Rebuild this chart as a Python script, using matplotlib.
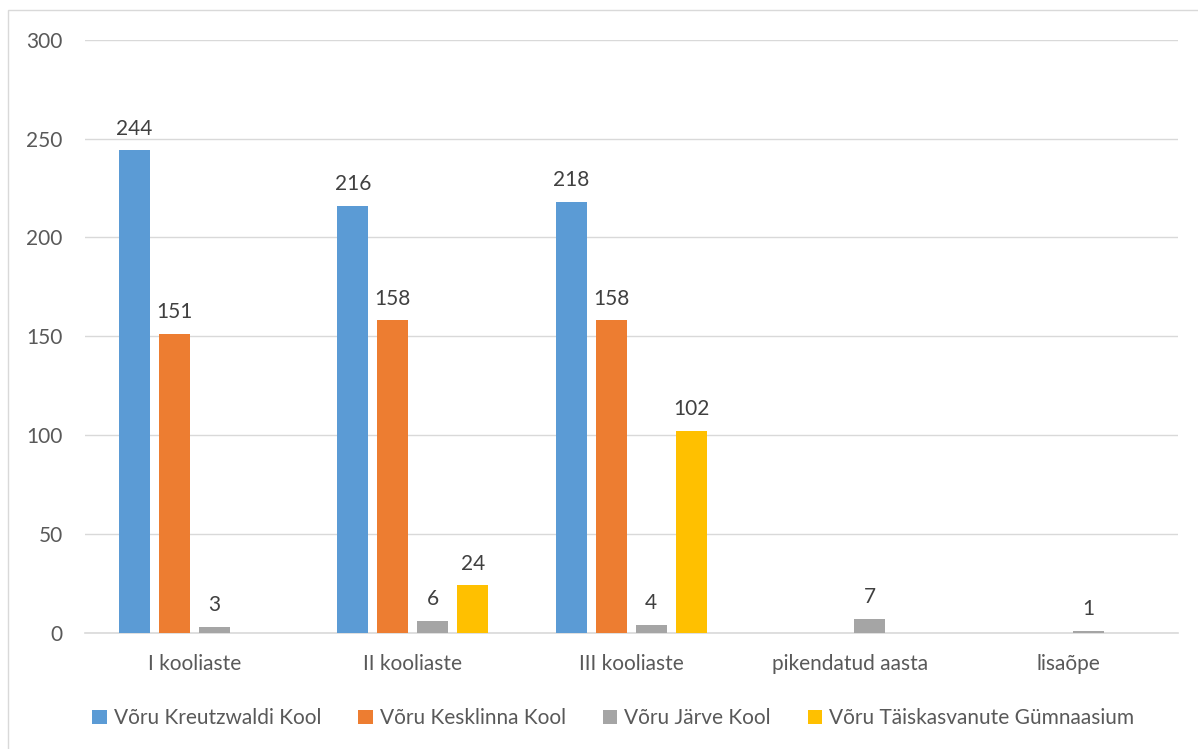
import numpy as np
import matplotlib.pyplot as plt
from matplotlib.patches import Rectangle

categories = ["I kooliaste", "II kooliaste", "III kooliaste", "pikendatud aasta", "lisaõpe"]
series_names = ["Võru Kreutzwaldi Kool", "Võru Kesklinna Kool", "Võru Järve Kool",
                "Võru Täiskasvanute Gümnaasium"]
kreutzwaldi = [244, 216, 218, 0, 0]
kesklinna = [151, 158, 158, 0, 0]
jarve = [3, 6, 4, 7, 1]
taiskasvanute = [0, 24, 102, 0, 0]
series = [kreutzwaldi, kesklinna, jarve, taiskasvanute]
colors = ["#5B9BD5", "#ED7D31", "#A5A5A5", "#FFC000"]

plt.rcParams['font.family'] = ['Lato', 'DejaVu Sans']

fig = plt.figure(figsize=(11.98, 7.49), dpi=100)
ax = fig.add_axes([0.071, 0.155, 0.912, 0.792])

x = np.arange(len(categories))
step = 0.183
width = 0.143
for i, (vals, name, c) in enumerate(zip(series, series_names, colors)):
    pos = x + (i - 1.5) * step
    ax.bar(pos, vals, width, color=c, label=name, zorder=3)
    for p, v in zip(pos, vals):
        if v > 0:
            ax.text(p, v + 6, str(v), ha="center", va="bottom", fontsize=15, color="#404040")

ax.set_xlim(-0.5, len(categories) - 0.5)
ax.set_ylim(0, 300)
ax.set_yticks(range(0, 301, 50))
ax.set_xticks(x)
ax.set_xticklabels(categories)
ax.yaxis.grid(True, color="#D9D9D9", linewidth=1, zorder=0)
ax.set_axisbelow(True)
for s in ["top", "right", "left"]:
    ax.spines[s].set_visible(False)
ax.spines["bottom"].set_color("#D9D9D9")
ax.spines["bottom"].set_linewidth(1.2)
ax.tick_params(axis="both", length=0, labelsize=15, labelcolor="#595959")
ax.tick_params(axis="x", pad=15)
ax.tick_params(axis="y", pad=16)

fig.legend(loc="center", bbox_to_anchor=(0.512, 0.041), ncol=4, frameon=False,
           fontsize=15, labelcolor="#595959", handlelength=0.7, handleheight=0.7,
           handletextpad=0.35, columnspacing=1.75)

fig.patches.append(Rectangle((8 / 1198, -0.01), 1.02, 1 - 10 / 749 + 0.01,
                             transform=fig.transFigure, fill=False,
                             edgecolor="#D9D9D9", linewidth=1))

fig.savefig("out.png", dpi=100)
